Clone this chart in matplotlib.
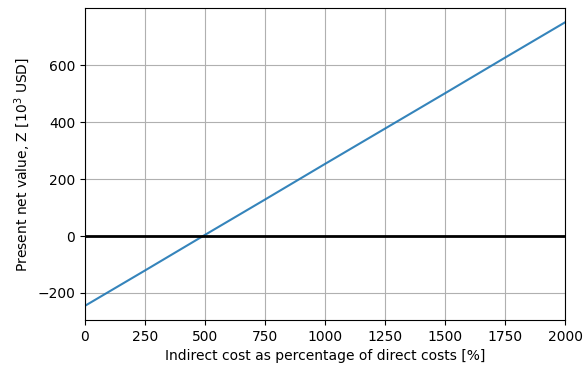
import matplotlib
matplotlib.use("Agg")
import matplotlib.pyplot as plt

# indirect cost share [%] vs present net value [10^3 USD]
indirect_pct = [0, 250, 500, 750, 1000, 1250, 1500, 1750, 2000]
npv = [-245, -121, 4, 128, 253, 377, 501, 626, 750]

fig = plt.figure(figsize=(5.84, 3.66), dpi=100)
ax = fig.add_axes([0.1455, 0.1257, 0.822, 0.852])

ax.plot(indirect_pct, npv, color="#1f77b4", linewidth=1.5, alpha=0.9)
ax.axhline(0, color="black", linewidth=2)

ax.set_xlim(0, 2000)
ax.set_xticks([0, 250, 500, 750, 1000, 1250, 1500, 1750, 2000])
ax.set_yticks([-200, 0, 200, 400, 600])
ax.grid(True, color="#b0b0b0", linewidth=0.8)
ax.set_xlabel("Indirect cost as percentage of direct costs [%]")
ax.set_ylabel(r"Present net value, Z [$10^3$ USD]")

fig.savefig("out.png", dpi=100)
